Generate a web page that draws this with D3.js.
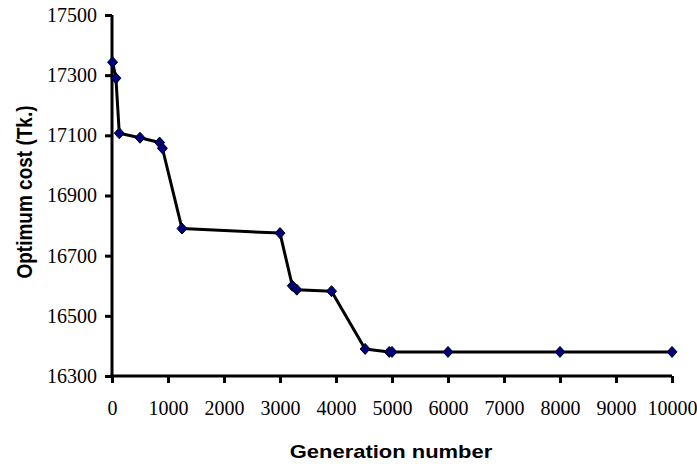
<!DOCTYPE html>
<html>
<head>
<meta charset="utf-8">
<script src="https://cdn.jsdelivr.net/npm/d3@7"></script>
<style>
body { margin: 0; background: #fff; }
.tick text { font-family: "Liberation Serif", "Times New Roman", serif; font-size: 20px; fill: #000; }
.title { font-family: "Liberation Sans", Arial, sans-serif; font-weight: bold; }
</style>
</head>
<body>
<svg id="chart" width="697" height="464"></svg>
<script>
// generations and best cost found
var generations = [10, 70, 130, 500, 850, 900, 1250, 3000, 3220, 3300, 3920, 4520, 4950, 5000, 6000, 8000, 10000];
var costs = [17343, 17290, 17107, 17092, 17076, 17057, 16790, 16775, 16600, 16587, 16582, 16390, 16380, 16380, 16380, 16380, 16380];
var xTicks = [0, 1000, 2000, 3000, 4000, 5000, 6000, 7000, 8000, 9000, 10000];
var yTicks = [16300, 16500, 16700, 16900, 17100, 17300, 17500];

var svg = d3.select("#chart");
var plotLeft = 112, plotRight = 672, plotTop = 15, plotBottom = 376;

var x = d3.scaleLinear().domain([0, 10000]).range([plotLeft, plotRight]);
var y = d3.scaleLinear().domain([16300, 17500]).range([plotBottom, plotTop]);

var yAxis = svg.append("g")
        .attr("transform", "translate(" + plotLeft + ",0)")
        .call(d3.axisLeft(y).tickValues(yTicks).tickSize(7).tickPadding(8).tickFormat(d3.format("d")));
var xAxis = svg.append("g")
        .attr("transform", "translate(0," + plotBottom + ")")
        .call(d3.axisBottom(x).tickValues(xTicks).tickSize(7).tickPadding(18).tickFormat(d3.format("d")));

[xAxis, yAxis].forEach(function(a){
    a.select(".domain").attr("stroke", "#000").attr("stroke-width", 3);
    a.selectAll(".tick line").attr("stroke", "#000").attr("stroke-width", 3);
});
//no outer ticks on the domain line ends
yAxis.select(".domain").attr("d", "M0," + plotTop + "V" + (plotBottom + 1.5));
xAxis.select(".domain").attr("d", "M" + (plotLeft - 1.5) + ",0H" + plotRight);

var pts = generations.map(function(g, i){ return [g, costs[i]]; });

svg.append("path")
        .datum(pts)
        .attr("fill", "none")
        .attr("stroke", "#000")
        .attr("stroke-width", 3)
        .attr("stroke-linejoin", "round")
        .attr("d", d3.line().x(function(d){ return x(d[0]); }).y(function(d){ return y(d[1]); }));

svg.selectAll(".marker")
        .data(pts)
        .enter()
        .append("path")
        .attr("class", "marker")
        .attr("transform", function(d){ return "translate(" + x(d[0]) + "," + y(d[1]) + ")"; })
        .attr("d", "M0,-5.5L5,0L0,5.5L-5,0Z")
        .attr("fill", "#000080")
        .attr("stroke", "#000")
        .attr("stroke-width", 1);

// the picture is a bit wider than tall, so the titles are stretched sideways
svg.append("text")
        .attr("class", "title")
        .attr("transform", "translate(391,458) scale(1.22,1)")
        .attr("text-anchor", "middle")
        .style("font-size", "18px")
        .text("Generation number");

svg.append("text")
        .attr("class", "title")
        .attr("transform", "translate(32,192) scale(1.2,1) rotate(-90)")
        .attr("text-anchor", "middle")
        .style("font-size", "19px")
        .text("Optimum cost (Tk.)");
</script>
</body>
</html>
